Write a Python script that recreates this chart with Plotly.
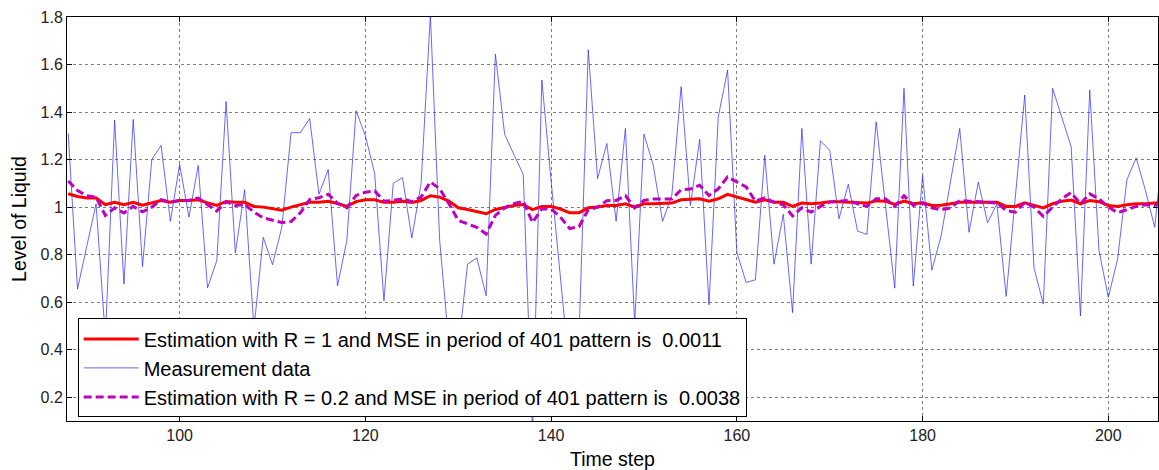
import plotly.graph_objects as go

# ---- data -------------------------------------------------------------
TIME_STEPS = list(range(88, 207))

MEASUREMENT = [
    1.31, 0.655, 0.835, 1.014, 0.45, 1.366, 0.676, 1.369, 0.75, 1.20,      # 88-97
    1.26, 0.94, 1.18, 0.958, 1.175, 0.66, 0.775, 1.444, 0.807, 1.073,      # 98-107
    0.49, 0.873, 0.758, 0.915, 1.313, 1.313, 1.373, 1.054, 1.158, 0.669,   # 108-117
    0.859, 1.406, 1.30, 1.141, 0.606, 1.10, 1.124, 0.87, 1.099, 1.81,      # 118-127
    0.86, 0.42, 0.40, 0.76, 0.786, 0.627, 1.644, 1.306, 1.22, 1.138,       # 128-137
    0.05, 1.535, 1.11, 0.69, 0.30, 0.45, 1.662, 1.12, 1.268, 0.94,         # 138-147
    1.331, 0.51, 1.307, 1.176, 0.94, 1.05, 1.507, 1.007, 1.285, 0.589,     # 148-157
    1.38, 1.577, 0.81, 0.683, 0.694, 1.218, 0.76, 0.97, 0.556, 1.331,      # 158-167
    0.76, 1.279, 1.239, 0.951, 1.096, 0.899, 0.885, 1.359, 1.0, 0.659,     # 168-177
    1.50, 0.668, 1.134, 0.735, 0.88, 1.10, 1.331, 0.894, 1.106, 0.934,     # 178-187
    1.014, 0.624, 1.05, 1.472, 0.744, 0.592, 1.50, 1.375, 1.254, 0.542,    # 188-197
    1.493, 0.817, 0.62, 0.782, 1.115, 1.207, 1.07, 0.915, 1.3,             # 198-206
]

EST_R1 = [
    1.056, 1.045, 1.038, 1.038, 1.010, 1.020, 1.010, 1.020, 1.008, 1.017,  # 88-97
    1.028, 1.021, 1.028, 1.028, 1.031, 1.018, 1.007, 1.024, 1.020, 1.020,  # 98-107
    1.003, 1.000, 0.993, 0.987, 1.000, 1.011, 1.020, 1.020, 1.025, 1.015,  # 108-117
    1.003, 1.023, 1.031, 1.031, 1.020, 1.020, 1.025, 1.020, 1.028, 1.048,  # 118-127
    1.042, 1.025, 0.997, 0.990, 0.980, 0.972, 0.990, 1.000, 1.007, 1.011,  # 128-137
    0.989, 1.003, 1.003, 0.992, 0.976, 0.976, 0.997, 1.000, 1.007, 1.007,  # 138-147
    1.014, 1.000, 1.014, 1.014, 1.017, 1.017, 1.031, 1.032, 1.035, 1.025,  # 148-157
    1.035, 1.054, 1.042, 1.031, 1.021, 1.031, 1.021, 1.020, 1.003, 1.017,  # 158-167
    1.014, 1.017, 1.023, 1.023, 1.021, 1.021, 1.017, 1.027, 1.025, 1.011,  # 168-177
    1.025, 1.014, 1.018, 1.007, 1.008, 1.014, 1.021, 1.021, 1.021, 1.021,  # 178-187
    1.020, 1.003, 1.003, 1.018, 1.008, 0.997, 1.014, 1.025, 1.030, 1.014,  # 188-197
    1.028, 1.023, 1.007, 1.003, 1.010, 1.014, 1.014, 1.017, 1.020,         # 198-206
]

EST_R02 = [
    1.110, 1.070, 1.048, 1.042, 0.965, 0.997, 0.975, 1.003, 0.980, 1.000,  # 88-97
    1.031, 1.021, 1.028, 1.028, 1.038, 1.011, 0.983, 1.023, 1.007, 1.011,  # 98-107
    0.979, 0.955, 0.944, 0.935, 0.939, 0.976, 1.032, 1.039, 1.054, 1.016,  # 108-117
    0.997, 1.049, 1.063, 1.068, 1.025, 1.028, 1.035, 1.023, 1.042, 1.106,  # 118-127
    1.077, 1.014, 0.944, 0.930, 0.915, 0.887, 0.965, 0.997, 1.014, 1.025,  # 128-137
    0.935, 0.993, 0.992, 0.958, 0.910, 0.918, 0.989, 1.000, 1.027, 1.028,  # 138-147
    1.048, 0.997, 1.028, 1.034, 1.034, 1.034, 1.073, 1.076, 1.092, 1.049,  # 148-157
    1.077, 1.127, 1.106, 1.085, 1.025, 1.039, 1.021, 1.010, 0.963, 0.997,  # 158-167
    0.979, 1.003, 1.021, 1.025, 1.028, 1.014, 1.003, 1.035, 1.035, 1.003,  # 168-177
    1.048, 1.007, 1.018, 0.997, 0.989, 0.996, 1.028, 1.025, 1.024, 1.020,  # 178-187
    1.017, 0.986, 0.979, 1.020, 1.000, 0.961, 1.000, 1.035, 1.061, 1.014,  # 188-197
    1.056, 1.035, 1.000, 0.977, 0.989, 1.003, 1.010, 1.007, 1.020,         # 198-206
]

X_TICKS = [100, 120, 140, 160, 180, 200]
X_TICK_LABELS = ["100", "120", "140", "160", "180", "200"]
Y_TICKS = [0.2, 0.4, 0.6, 0.8, 1.0, 1.2, 1.4, 1.6, 1.8]
Y_TICK_LABELS = ["0.2", "0.4", "0.6", "0.8", "1", "1.2", "1.4", "1.6", "1.8"]

NAME_R1 = "Estimation with R = 1 and MSE in period of 401 pattern is  0.0011"
NAME_MEAS = "Measurement data"
NAME_R02 = "Estimation with R = 0.2 and MSE in period of 401 pattern is  0.0038"

# ---- figure -------------------------------------------------------------
FONT = "Liberation Sans, Arial, sans-serif"

fig = go.Figure()
fig.add_trace(go.Scatter(
    x=TIME_STEPS, y=MEASUREMENT, mode="lines", name=NAME_MEAS,
    line=dict(color="rgba(40,40,255,0.7)", width=1), legendrank=2,
))
fig.add_trace(go.Scatter(
    x=TIME_STEPS, y=EST_R1, mode="lines", name=NAME_R1,
    line=dict(color="#ff0000", width=3), legendrank=1,
))
fig.add_trace(go.Scatter(
    x=TIME_STEPS, y=EST_R02, mode="lines", name=NAME_R02,
    line=dict(color="#bf00bf", width=3, dash="8px,4px"), legendrank=3,
))

axis_common = dict(
    showline=True, linecolor="black", linewidth=1, mirror="ticks",
    ticks="inside", ticklen=5, tickcolor="black",
    showgrid=True, gridcolor="#808080", gridwidth=1, griddash="dot",
    zeroline=False,
    tickfont=dict(family=FONT, size=16, color="#222222"),
)

fig.update_layout(
    width=1159, height=470,
    margin=dict(l=67, r=1, t=17, b=49),
    paper_bgcolor="white", plot_bgcolor="white",
    font=dict(family=FONT, color="black"),
    showlegend=True,
    legend=dict(
        x=0.0098, y=0.254, xanchor="left", yanchor="top",
        bgcolor="white", bordercolor="black", borderwidth=1,
        font=dict(family=FONT, size=20, color="black"),
        itemwidth=55, tracegroupgap=0,
    ),
    xaxis=dict(
        range=[87.87, 205.35], tickvals=X_TICKS, ticktext=X_TICK_LABELS,
        title=dict(text="Time step", font=dict(family=FONT, size=19.5), standoff=10),
        **axis_common,
    ),
    yaxis=dict(
        range=[0.1, 1.8], tickvals=Y_TICKS, ticktext=Y_TICK_LABELS,
        title=dict(text="Level of Liquid", font=dict(family=FONT, size=19.5), standoff=8),
        **axis_common,
    ),
)

fig.write_html("out.html")
